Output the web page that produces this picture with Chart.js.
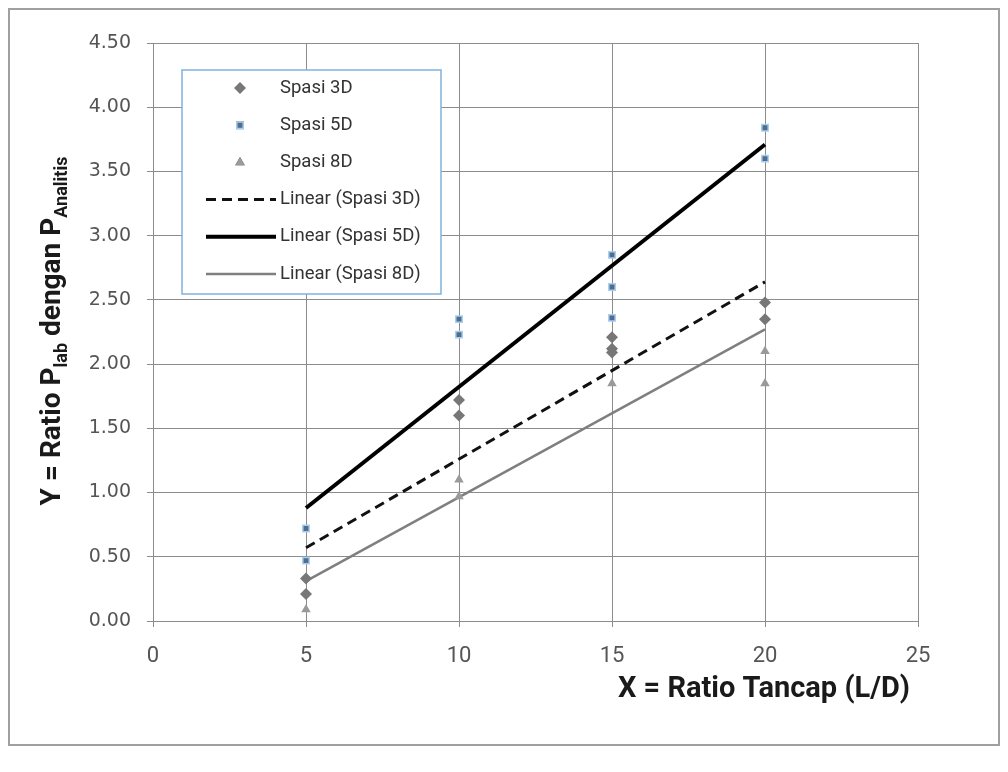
<!DOCTYPE html>
<html>
<head>
<meta charset="utf-8">
<script src="https://cdn.jsdelivr.net/npm/chart.js@4.4.0/dist/chart.umd.min.js"></script>
<style>
  html, body { margin: 0; padding: 0; background: #fff; }
  #wrap { width: 1008px; height: 772px; position: relative; }
</style>
</head>
<body>
<div id="wrap"><canvas id="c" width="1008" height="772"></canvas></div>
<script>
// data
const x3D = [5, 5, 10, 10, 15, 15, 15, 20, 20];
const y3D = [0.33, 0.21, 1.72, 1.60, 2.21, 2.12, 2.09, 2.48, 2.35];
const x5D = [5, 5, 10, 10, 15, 15, 15, 20, 20];
const y5D = [0.72, 0.47, 2.35, 2.23, 2.85, 2.60, 2.36, 3.84, 3.60];
const x8D = [5, 10, 10, 15, 20, 20];
const y8D = [0.09, 1.10, 0.97, 1.85, 2.10, 1.85];
const trendX = [5, 20];
const trend3D = [0.57, 2.64];
const trend5D = [0.88, 3.71];
const trend8D = [0.31, 2.27];
const xTicks = [0, 5, 10, 15, 20, 25];
const yTicks = [0, 0.5, 1, 1.5, 2, 2.5, 3, 3.5, 4, 4.5];

const pts = (xs, ys) => xs.map((x, i) => ({ x: x, y: ys[i] }));

const narrow = "Roboto, sans-serif";
const gridCol = '#8c8c8c';

// white page + thin outer frame
const frame = {
    id: 'frame',
    beforeDraw(chart) {
        const { ctx } = chart;
        ctx.save();
        ctx.fillStyle = '#fff';
        ctx.fillRect(0, 0, chart.width, chart.height);
        ctx.strokeStyle = '#a0a0a0';
        ctx.lineWidth = 2;
        ctx.strokeRect(9, 9, 990, 736);
        ctx.restore();
    }
};

// axis titles (y title has subscripts, so drawn by hand)
const titles = {
    id: 'titles',
    afterDraw(chart) {
        const { ctx } = chart;
        ctx.save();
        ctx.fillStyle = '#1a1a1a';
        ctx.textBaseline = 'alphabetic';
        const big = 'bold 28px ' + narrow;
        const small = 'bold 18px ' + narrow;
        const parts = [['Y = Ratio P', big, 0], ['lab', small, 7], [' dengan P', big, 0], ['Analitis', small, 7]];
        let total = 0;
        parts.forEach(p => { ctx.font = p[1]; total += ctx.measureText(p[0]).width; });
        ctx.translate(60, 331);
        ctx.rotate(-Math.PI / 2);
        let cx = -total / 2;
        parts.forEach(p => {
            ctx.font = p[1];
            ctx.fillText(p[0], cx, p[2]);
            cx += ctx.measureText(p[0]).width;
        });
        ctx.restore();

        ctx.save();
        ctx.fillStyle = '#1a1a1a';
        ctx.font = 'bold 29px ' + narrow;
        ctx.textAlign = 'right';
        ctx.textBaseline = 'middle';
        ctx.fillText('X = Ratio Tancap (L/D)', 910, 690);
        ctx.restore();
    }
};

// legend box inside the plot, built from the datasets
const boxLegend = {
    id: 'boxLegend',
    afterDraw(chart) {
        const { ctx } = chart;
        const left = 182, top = 70, w = 259, h = 224;
        ctx.save();
        ctx.fillStyle = '#fff';
        ctx.fillRect(left, top, w, h);
        ctx.strokeStyle = '#7fb2dd';
        ctx.lineWidth = 1.5;
        ctx.strokeRect(left, top, w, h);
        ctx.font = '18.5px ' + narrow;
        ctx.textBaseline = 'middle';
        chart.data.datasets.forEach((ds, i) => {
            const y = 88 + i * 37.2;
            if (ds.showLine) {
                ctx.save();
                ctx.strokeStyle = ds.borderColor;
                ctx.lineWidth = ds.borderWidth;
                ctx.setLineDash(ds.borderDash || []);
                ctx.beginPath();
                ctx.moveTo(206, y);
                ctx.lineTo(276, y);
                ctx.stroke();
                ctx.restore();
            } else {
                Chart.helpers.drawPoint(ctx, {
                    pointStyle: ds.pointStyle,
                    radius: ds.pointRadius,
                    borderWidth: ds.borderWidth,
                    rotation: ds.rotation || 0
                }, 240, y);
                ctx.fillStyle = ds.backgroundColor;
                ctx.strokeStyle = ds.borderColor;
                ctx.lineWidth = ds.borderWidth;
                ctx.fill();
                if (ds.borderWidth) ctx.stroke();
            }
            ctx.fillStyle = '#333';
            ctx.fillText(ds.label, 280, y);
        });
        ctx.restore();
    }
};

new Chart(document.getElementById('c'), {
    type: 'scatter',
    data: {
        datasets: [
            { label: 'Spasi 3D', data: pts(x3D, y3D), pointStyle: 'rectRot', pointRadius: 6, rotation: 0,
              backgroundColor: '#777777', borderColor: '#777777', borderWidth: 0, order: 0 },
            { label: 'Spasi 5D', data: pts(x5D, y5D), pointStyle: 'rect', pointRadius: 4.5,
              backgroundColor: '#4f6d8c', borderColor: '#a9cdef', borderWidth: 1.5, order: 0 },
            { label: 'Spasi 8D', data: pts(x8D, y8D), pointStyle: 'triangle', pointRadius: 5.5,
              backgroundColor: '#9a9a9a', borderColor: '#9a9a9a', borderWidth: 0, order: 0 },
            { label: 'Linear (Spasi 3D)', data: pts(trendX, trend3D), showLine: true, pointRadius: 0,
              borderColor: '#111', borderWidth: 3, borderDash: [10, 6], order: 1 },
            { label: 'Linear (Spasi 5D)', data: pts(trendX, trend5D), showLine: true, pointRadius: 0,
              borderColor: '#000', borderWidth: 4, order: 1 },
            { label: 'Linear (Spasi 8D)', data: pts(trendX, trend8D), showLine: true, pointRadius: 0,
              borderColor: '#7f7f7f', borderWidth: 2.5, order: 1 }
        ]
    },
    options: {
        responsive: false,
        animation: false,
        events: [],
        layout: { padding: { left: 0, top: 43, right: 90, bottom: 0 } },
        plugins: {
            legend: { display: false },
            tooltip: { enabled: false }
        },
        scales: {
            x: {
                type: 'linear',
                min: 0,
                max: 25,
                afterBuildTicks: s => { s.ticks = xTicks.map(v => ({ value: v })); },
                afterFit: s => { s.height = 151; },
                grid: { color: gridCol, tickColor: gridCol, tickLength: 6, lineWidth: 1 },
                border: { color: gridCol, width: 1 },
                ticks: {
                    color: '#555',
                    padding: 16,
                    font: { family: narrow, size: 22 }
                }
            },
            y: {
                min: 0,
                max: 4.5,
                afterBuildTicks: s => { s.ticks = yTicks.map(v => ({ value: v })); },
                afterFit: s => { s.width = 153; },
                grid: { color: gridCol, tickColor: gridCol, tickLength: 6, lineWidth: 1 },
                border: { color: gridCol, width: 1 },
                ticks: {
                    color: '#555',
                    padding: 16,
                    font: { family: 'DejaVu Sans', size: 19 },
                    callback: v => v.toFixed(2)
                }
            }
        }
    },
    plugins: [frame, titles, boxLegend]
});
</script>
</body>
</html>
